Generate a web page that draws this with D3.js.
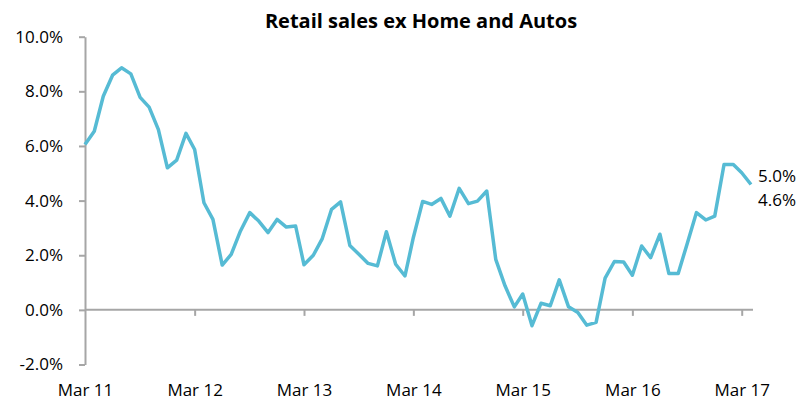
<!DOCTYPE html>
<html>
<head>
<meta charset="utf-8">
<script src="https://cdn.jsdelivr.net/npm/d3@7/dist/d3.min.js"></script>
<style>
  body { margin: 0; background: #fff; }
  svg { display: block; font-family: "Open Sans", sans-serif; }
</style>
</head>
<body>
<svg id="chart"></svg>
<script>
// Retail sales ex Home and Autos, y/y %

const width = 808;
const height = 405;

// monthly values, Mar 2011 .. Apr 2017
const firstMonth = new Date(2011, 2, 1);
const salesValues = [
    6.05, 6.54, 7.82, 8.59, 8.86, 8.64, 7.78, 7.42, 6.60, 5.20, 5.48, 6.46,
    5.87, 3.92, 3.31, 1.64, 2.03, 2.89, 3.56, 3.25, 2.83, 3.31, 3.03, 3.07,
    1.65, 2.00, 2.61, 3.68, 3.95, 2.36, 2.03, 1.70, 1.61, 2.86, 1.67, 1.24,
    2.65, 3.97, 3.86, 4.08, 3.43, 4.45, 3.89, 3.98, 4.35, 1.85, 0.88, 0.11,
    0.58, -0.58, 0.24, 0.15, 1.10, 0.11, -0.10, -0.56, -0.46, 1.16, 1.77, 1.75,
    1.27, 2.34, 1.91, 2.77, 1.33, 1.33, 2.46, 3.56, 3.29, 3.43, 5.32, 5.32,
    5.02, 4.59
];

const xTickLabels = ["Mar 11", "Mar 12", "Mar 13", "Mar 14", "Mar 15", "Mar 16", "Mar 17"];
const yTickValues = [-2, 0, 2, 4, 6, 8, 10];
const yTickLabels = ["-2.0%", "0.0%", "2.0%", "4.0%", "6.0%", "8.0%", "10.0%"];
const endLabels = ["5.0%", "4.6%"];

const data = salesValues.map((v, i) => ({ date: d3.timeMonth.offset(firstMonth, i), value: v }));
const xTickDates = xTickLabels.map((_, i) => d3.timeYear.offset(firstMonth, i));

const svg = d3.select("#chart").attr("width", width).attr("height", height);

const x = d3.scaleTime()
    .domain([firstMonth, data[data.length - 1].date])
    .range([85, 751]);

const y = d3.scaleLinear()
    .domain([-2, 10])
    .range([364.5, 36.7]);

const axisColor = "#a6a6a6";
const lineColor = "#56bbd4";

// title
svg.append("text")
    .attr("x", 421)
    .attr("y", 28)
    .attr("text-anchor", "middle")
    .attr("font-size", "20px")
    .attr("font-weight", "bold")
    .attr("fill", "#000")
    .text("Retail sales ex Home and Autos");

// y axis
const yAxis = d3.axisLeft(y)
    .tickValues(yTickValues)
    .tickFormat((d, i) => yTickLabels[i])
    .tickSize(6)
    .tickSizeOuter(0)
    .tickPadding(16);

const gy = svg.append("g")
    .attr("transform", `translate(${x.range()[0]},0)`)
    .call(yAxis);

gy.select(".domain").attr("stroke", axisColor).attr("stroke-width", 2);
gy.selectAll(".tick line").attr("stroke", axisColor).attr("stroke-width", 2);
gy.selectAll(".tick text")
    .attr("font-size", "17px")
    .attr("font-family", "'Open Sans', sans-serif")
    .attr("fill", "#000");

// x axis on zero line
const xAxis = d3.axisBottom(x)
    .tickValues(xTickDates)
    .tickFormat((d, i) => xTickLabels[i])
    .tickSize(6)
    .tickSizeOuter(0);

const gx = svg.append("g")
    .attr("transform", `translate(0,${y(0)})`)
    .call(xAxis);

gx.select(".domain")
    .attr("d", `M${x.range()[0]},0H753`)
    .attr("stroke", axisColor)
    .attr("stroke-width", 2);
gx.selectAll(".tick line").attr("stroke", axisColor).attr("stroke-width", 2);
gx.selectAll(".tick").filter((d, i) => i === 0).select("line").remove();
gx.selectAll(".tick text")
    .attr("y", 396 - y(0))
    .attr("dy", null)
    .attr("font-size", "17px")
    .attr("font-family", "'Open Sans', sans-serif")
    .attr("fill", "#000");

// series line
const line = d3.line()
    .x(d => x(d.date))
    .y(d => y(d.value));

svg.append("path")
    .datum(data)
    .attr("fill", "none")
    .attr("stroke", lineColor)
    .attr("stroke-width", 3.5)
    .attr("stroke-linejoin", "round")
    .attr("d", line);

// end labels for the last two points
const last = data[data.length - 1];
const prev = data[data.length - 2];
svg.append("text")
    .attr("x", x(last.date) + 7)
    .attr("y", y(prev.value) + 9)
    .attr("font-size", "17px")
    .attr("fill", "#000")
    .text(endLabels[0]);
svg.append("text")
    .attr("x", x(last.date) + 7)
    .attr("y", y(last.value) + 22)
    .attr("font-size", "17px")
    .attr("fill", "#000")
    .text(endLabels[1]);
</script>
</body>
</html>
